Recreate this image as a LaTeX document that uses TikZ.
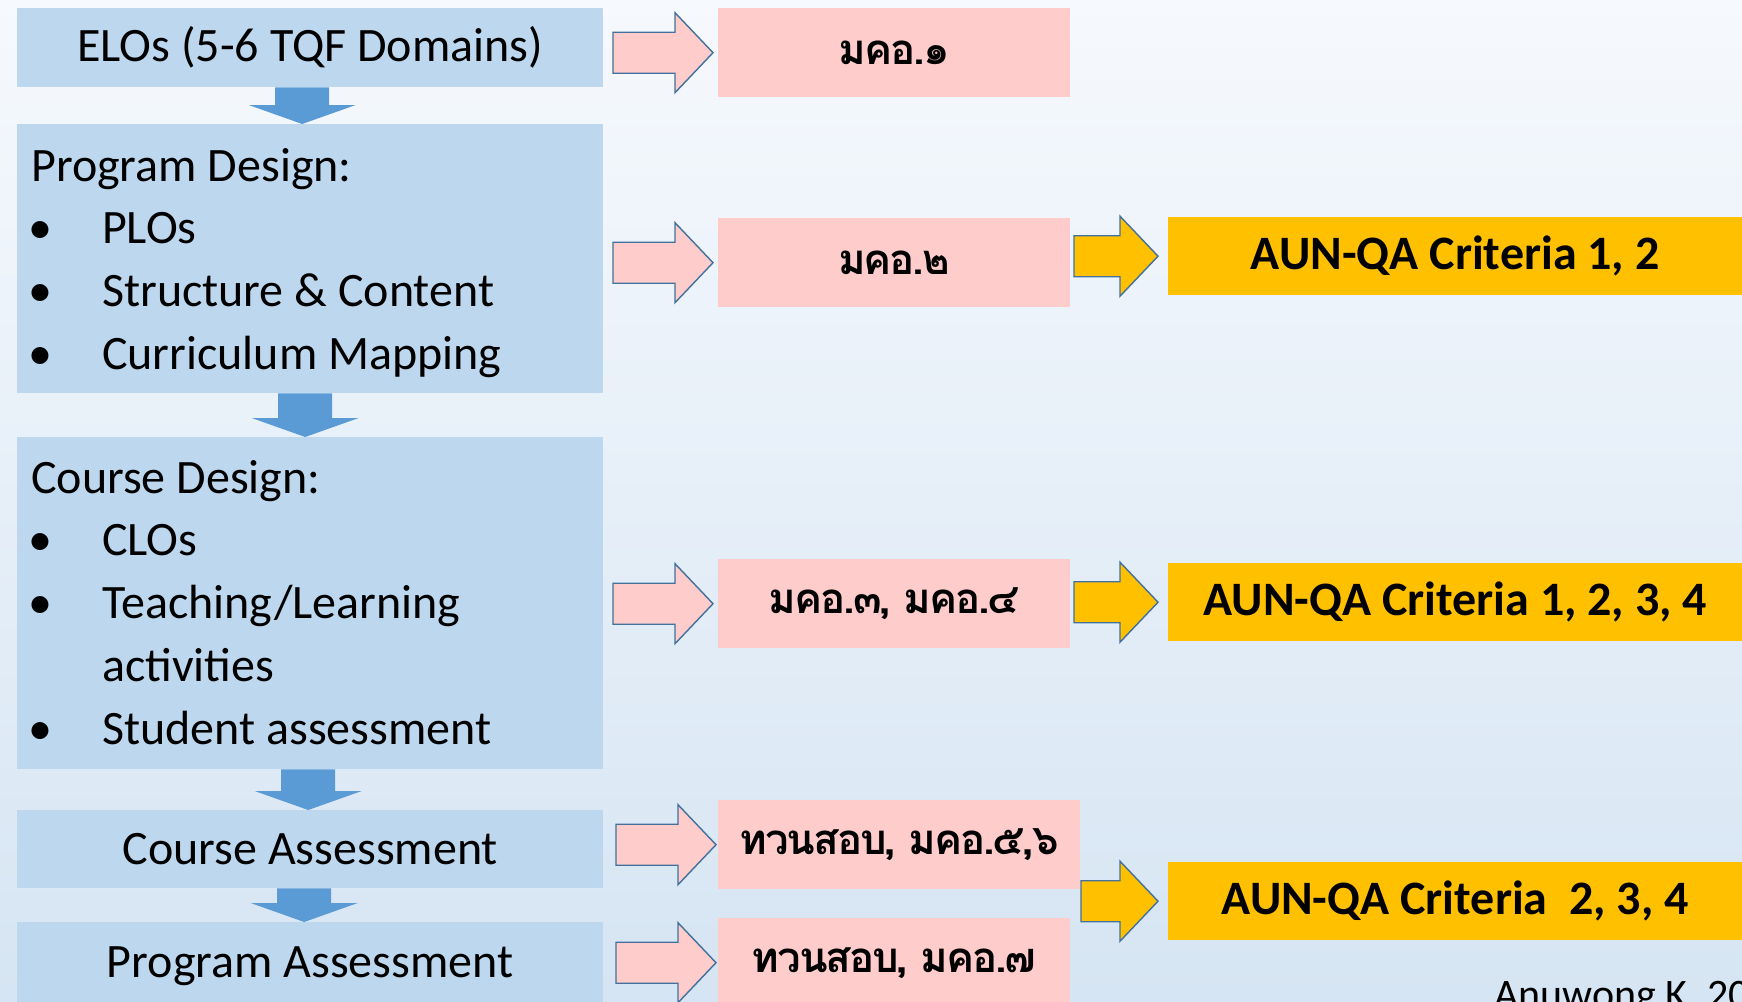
\documentclass[tikz,border=0pt]{standalone}
\usepackage{fontspec}
\setmainfont{Carlito}
\newfontfamily\thaifont[Script=Thai,LetterSpace=-5]{Loma}
\usepackage{tikz}
\usetikzlibrary{calc}

\definecolor{boxblue}{HTML}{BDD7EE}
\definecolor{arrowblue}{HTML}{5B9BD5}
\definecolor{pinkfill}{HTML}{FFCCCC}
\definecolor{goldfill}{HTML}{FFC000}
\definecolor{arrowedge}{HTML}{41719C}
\definecolor{bgtop}{HTML}{F6F9FD}
\definecolor{bgmid}{HTML}{F2F7FC}
\definecolor{bgbot}{HTML}{D6E5F3}

% bullet with hanging indent
\newcommand{\bul}{\makebox[71pt][l]{\hspace{-3pt}\textbullet}}
\newcommand{\boxtext}[3]{\parbox[c][#1][t]{558pt}{\rule{0pt}{#2}#3}}
% block arrows
\newcommand{\rightblock}[3]{%
  \draw[#1] (#2) -- ++(-38,-40) -- ++(0,19.5) -- ++({-(#3-38)},0) -- ++(0,41)
    -- ++({#3-38},0) -- ++(0,19.5) -- cycle;}
\newcommand{\downblock}[2]{%
  \fill[arrowblue] (#1) ++(-27,0) -- ++(54,0) |- ($(#2)+(27,-19)$) -- ++(26.5,0)
    -- (#2) -- ++(-53.5,-19) -- ++(26.5,0) -- cycle;}

\begin{document}
\begin{tikzpicture}[x=1pt,y=-1pt]
  \tikzset{
    lbox/.style={fill=boxblue,anchor=north west,inner xsep=14pt,inner ysep=0pt,
      minimum width=586pt,font={\fontsize{48}{62.7}\selectfont}},
    pbox/.style={fill=pinkfill,anchor=north west,minimum width=352pt,minimum height=89pt,
      inner sep=0pt,font={\thaifont\bfseries\fontsize{42}{50}\selectfont}},
    ybox/.style={fill=goldfill,anchor=north west,minimum width=574pt,minimum height=78pt,
      inner sep=0pt,font={\bfseries\fontsize{48}{56}\selectfont}},
    pinkarrow/.style={fill=pinkfill,draw=arrowedge,line width=1.4pt},
    goldarrow/.style={fill=goldfill,draw=arrowedge,line width=1.4pt}
  }
  \useasboundingbox (0,0) rectangle (1742,1001);
  \shade[top color=bgtop,middle color=bgmid,bottom color=bgbot] (0,0) rectangle (1742,1001);

  % left column
  \node[lbox,minimum height=79pt] (elo) at (17,8) {ELOs (5-6 TQF Domains)};
  \node[lbox] (prog) at (17,124) {\boxtext{269pt}{57pt}{%
    Program Design:\\
    \bul PLOs\\
    \bul Structure \& Content\\
    \bul Curriculum Mapping}};
  \node[lbox] (course) at (17,437) {\boxtext{332pt}{56pt}{%
    Course Design:\\
    \bul CLOs\\
    \bul Teaching/Learning\\
    \hspace*{71pt}activities\\
    \bul Student assessment}};
  \node[lbox,minimum height=78pt] (cassess) at (17,810) {Course Assessment};
  \node[lbox,minimum height=88pt] (passess) at (17,922) {Program Assessment};

  \downblock{[xshift=-8pt]elo.south}{[xshift=-8pt]prog.north}
  \downblock{[xshift=-5pt]prog.south}{[xshift=-5pt]course.north}
  \downblock{[xshift=-2pt]course.south}{[xshift=-2pt]cassess.north}
  \downblock{[xshift=-6pt]cassess.south}{[xshift=-6pt]passess.north}

  % TQF documents
  \node[pbox] (tqf1) at (718,8) {มคอ.๑};
  \node[pbox] (tqf2) at (718,218) {มคอ.๒};
  \node[pbox] (tqf3) at (718,559) {มคอ.๓, มคอ.๔};
  \node[pbox,minimum width=362pt] (tqf4) at (718,800) {ทวนสอบ, มคอ.๕,๖};
  \node[pbox] (tqf5) at (718,918) {ทวนสอบ, มคอ.๗};

  \rightblock{pinkarrow}{[xshift=-5pt]tqf1.west}{100}
  \rightblock{pinkarrow}{[xshift=-5pt]tqf2.west}{100}
  \rightblock{pinkarrow}{[xshift=-5pt]tqf3.west}{100}
  \rightblock{pinkarrow}{[xshift=-2pt]tqf4.west}{100}
  \rightblock{pinkarrow}{[xshift=-2pt]tqf5.west}{100}

  % AUN-QA criteria
  \node[ybox] (aun1) at (1168,217) {AUN-QA Criteria 1, 2};
  \node[ybox] (aun2) at (1168,563) {AUN-QA Criteria 1, 2, 3, 4};
  \node[ybox] (aun3) at (1168,862) {AUN-QA Criteria~ 2, 3, 4};

  \rightblock{goldarrow}{[xshift=-10pt]aun1.west}{84}
  \rightblock{goldarrow}{[xshift=-10pt]aun2.west}{84}
  \rightblock{goldarrow}{[xshift=-10pt]aun3.west}{77}

  \node[anchor=base west,inner sep=0pt,font={\fontsize{42}{48}\selectfont}] (credit)
    at (1494,1008) {Anuwong K. 20};
\end{tikzpicture}
\end{document}
